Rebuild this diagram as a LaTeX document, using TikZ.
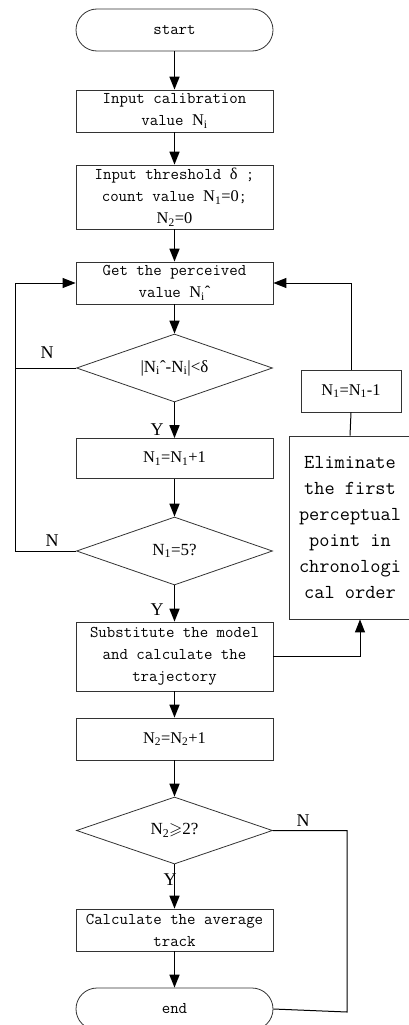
\documentclass[tikz,border=0pt]{standalone}
\usepackage{amssymb}
\usepackage{fontspec}
\setmainfont{Liberation Serif}
\usetikzlibrary{shapes.geometric,arrows.meta}
\newcommand\Ni{N\textsubscript{i}}
\newcommand\None{N\textsubscript{1}}
\newcommand\Ntwo{N\textsubscript{2}}
\tikzset{
  proc/.style={
    shape = rectangle,
    draw = black!80,
    line width = 0.8pt,
    minimum width = 197pt,
    minimum height = 42pt,
    inner sep = 0pt,
    align = center,
    font = \fontsize{16.4}{22}\selectfont\ttfamily
  },
  term/.style={
    proc,
    rounded corners = 21pt
  },
  decide/.style={
    shape = diamond,
    draw = black!80,
    line width = 0.8pt,
    aspect = 2.9,
    minimum width = 196pt,
    minimum height = 68pt,
    inner sep = 0pt,
    font = \fontsize{17}{18}\selectfont\rmfamily
  },
  flow/.style={
    -{Triangle[length=13pt,width=10pt]},
    line width = 1.6pt
  },
  back/.style={
    line width = 1pt
  },
  backtip/.style={
    back,
    -{Triangle[length=13pt,width=10pt]}
  },
  yn/.style={
    inner sep = 0pt,
    font = \fontsize{18}{18}\selectfont\rmfamily
  }
}
\begin{document}
\begin{tikzpicture}[x=1pt, y=-1pt]
  \useasboundingbox (0,0) rectangle (409,1025);
  \begin{scope}
  \clip (0,0) rectangle (409,1025);

  % main column
  \node[term] (start) at (174.5,30) {start};
  \node[proc] (inp) at (174.5,111) {Input calibration\\value \textrm{\Ni}};
  \node[proc, minimum height=64pt] (thr) at (174.5,197)
      {Input threshold \textrm{δ} ;\\count value \textrm{\None=0};\\\textrm{\Ntwo=0}};
  \node[proc] (get) at (174.5,283) {Get the perceived\\value \textrm{\Ni{}ˆ}};
  \node[decide] (dif) at (174.5,368) {|\Ni{}ˆ-\Ni|<δ};
  \node[proc, minimum height=40pt] (inc) at (174.5,458.5) {\rmfamily\None=\None+1};
  \node[decide] (five) at (174.5,551) {\None=5?};
  \node[proc, minimum height=69pt] (sub) at (174.5,656.5)
      {Substitute the model\\and calculate the\\trajectory};
  \node[proc] (cnt) at (174.5,739) {\rmfamily\Ntwo=\Ntwo+1};
  \node[decide, minimum height=67pt] (two) at (174.5,830.5) {\Ntwo$\geqslant$2?};
  \node[proc] (avg) at (174.5,930) {Calculate the average\\track};
  \node[term] (end) at (174.5,1009) {end};

  % side column
  \node[proc, minimum width=100pt] (dec) at (351,391) {\rmfamily\None=\None-1};
  \node[proc, minimum width=121pt, minimum height=183pt,
        font=\fontsize{19.8}{26}\selectfont\ttfamily] (elim) at (350,527.5)
      {Eliminate\\the first\\perceptual\\point in\\chronologi\\cal order};

  \coordinate (lft) at (15,0);
  \coordinate (rgt) at (360,0);
  \coordinate (far) at (347,1012);

  \draw[flow] (start) -- (inp);
  \draw[flow] (inp) -- (thr);
  \draw[flow] (thr) -- (get);
  \draw[flow] (get) -- (dif);
  \draw[flow] (dif) -- (inc);
  \draw[flow] (inc) -- (five);
  \draw[flow] (five) -- (sub);
  \draw[flow] (sub) -- (cnt);
  \draw[flow] (cnt) -- (two);
  \draw[flow] (two) -- (avg);
  \draw[flow] (avg) -- (end);

  % loops back
  \draw[backtip] (dif.west) -- (dif.west -| lft) |- (get.west);
  \draw[back] (five.west) -- (five.west -| lft) -- (dif.west -| lft);
  \draw[backtip] (sub.east) -| (elim.south -| rgt);
  \draw[back] (elim.north) -- (dec.south);
  \draw[backtip] (dec.north) |- (get.east);
  \draw[back] (two.east) -- (two.east -| far) -- (far) -- (end.east);

  \node[yn] (n1) at (47,353) {N};
  \node[yn] (y1) at (157,430) {Y};
  \node[yn] (n2) at (52,541) {N};
  \node[yn] (y2) at (157,610) {Y};
  \node[yn] (n3) at (303,821) {N};
  \node[yn] (y3) at (170,880) {Y};
  \end{scope}
\end{tikzpicture}
\end{document}
